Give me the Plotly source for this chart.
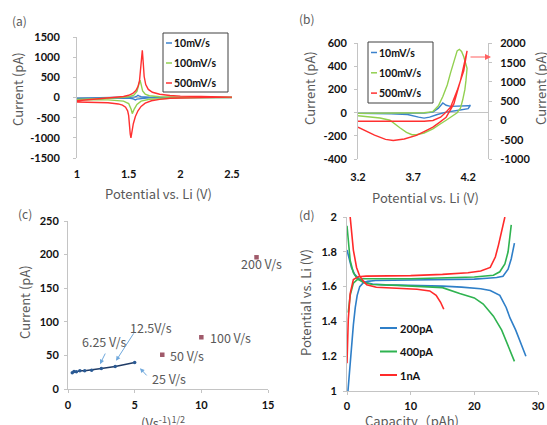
import plotly.graph_objects as go

W, H = 547, 425

# ---------------- Panel (a): CV 1.0-2.5 V ----------------
a_labels = ["10mV/s", "100mV/s", "500mV/s"]
a10_x = [1.0, 1.3, 1.5, 1.56, 1.58, 1.59, 1.6, 1.62, 1.7, 2.0, 2.5,
         2.5, 2.0, 1.7, 1.62, 1.58, 1.565, 1.555, 1.54, 1.5, 1.3, 1.0]
a10_y = [-20, -10, 0, 15, 35, 55, 40, 20, 8, 3, 2,
         0, -2, -8, -20, -40, -60, -50, -30, -15, -12, -20]
a100_x = [1.0, 1.2, 1.4, 1.5, 1.55, 1.58, 1.6, 1.61, 1.62, 1.635, 1.66, 1.7, 1.8, 2.0, 2.5,
          2.5, 2.0, 1.8, 1.7, 1.62, 1.58, 1.555, 1.54, 1.535, 1.525, 1.5, 1.45, 1.3, 1.1, 1.0]
a100_y = [-50, -30, -5, 20, 60, 150, 300, 430, 330, 160, 80, 45, 20, 10, 5,
          0, -10, -25, -45, -90, -170, -280, -380, -400, -300, -150, -90, -60, -55, -50]
a500_x = [1.0, 1.1, 1.2, 1.3, 1.4, 1.45, 1.5, 1.54, 1.57, 1.59, 1.605, 1.615, 1.625, 1.632,
          1.64, 1.65, 1.665, 1.69, 1.73, 1.8, 1.9, 2.0, 2.2, 2.5,
          2.5, 2.2, 2.0, 1.9, 1.8, 1.72, 1.66, 1.62, 1.59, 1.565, 1.545, 1.53, 1.522, 1.515,
          1.508, 1.5, 1.49, 1.47, 1.44, 1.4, 1.3, 1.2, 1.1, 1.0]
a500_y = [-80, -60, -40, -20, 5, 25, 55, 100, 170, 270, 420, 650, 1000, 1170,
          900, 520, 320, 200, 130, 80, 50, 35, 25, 20,
          10, 0, -10, -20, -45, -80, -140, -220, -330, -470, -650, -850, -1000, -900,
          -650, -450, -330, -240, -190, -160, -130, -120, -115, -110]
a_yticks = [-1500, -1000, -500, 0, 500, 1000, 1500]
a_yticklabels = ["-1500", "-1000", "-500", "0", "500", "1000", "1500"]
a_xticks = [1, 1.5, 2, 2.5]
a_xticklabels = ["1", "1.5", "2", "2.5"]

# ---------------- Panel (b): CV 3.2-4.2 V ----------------
b10_x = [3.2, 3.5, 3.8, 3.88, 3.93, 3.97, 4.0, 4.04, 4.12, 4.2, 4.22,
         4.2, 4.1, 4.0, 3.92, 3.85, 3.8, 3.75, 3.65, 3.5, 3.2]
b10_y = [-5, -5, -3, 5, 40, 85, 65, 55, 55, 60, 65,
         35, 20, 5, -15, -38, -46, -38, -15, -8, -5]
b100_x = [3.2, 3.5, 3.8, 3.88, 3.93, 3.97, 4.01, 4.04, 4.07, 4.1, 4.12, 4.14, 4.16, 4.18, 4.19,
          4.18, 4.17, 4.15, 4.13, 4.1, 4.05, 4.0, 3.95, 3.88, 3.8, 3.73, 3.69, 3.64, 3.58,
          3.49, 3.4, 3.32, 3.2]
b100_y = [-5, -3, 0, 10, 60, 140, 240, 345, 450, 535, 549, 530, 485, 430, 385,
          280, 200, 110, 40, 0, -35, -65, -95, -140, -175, -190, -190, -170, -130,
          -65, -45, -35, -26]
b500_x = [3.2, 3.5, 3.8, 3.88, 3.95, 4.0, 4.04, 4.1, 4.16, 4.19,
          4.13, 4.07, 4.0, 3.94, 3.88, 3.8, 3.73, 3.62, 3.52, 3.45, 3.35, 3.2]
b500_y = [-20, -20, -20, 0, 85, 220, 345, 775, 1290, 1808,
          1034, 430, 85, -50, -173, -290, -388, -480, -520, -490, -380, -173]
b_xticks = [3.2, 3.7, 4.2]
b_xticklabels = ["3.2", "3.7", "4.2"]
b_yticks = [-400, -200, 0, 200, 400, 600]
b_yticklabels = ["-400", "-200", "0", "200", "400", "600"]
b_y2ticks = [-1000, -500, 0, 500, 1000, 1500, 2000]
b_y2ticklabels = ["-1000", "-500", "0", "500", "1000", "1500", "2000"]

# ---------------- Panel (c): peak current vs sqrt(scan rate) ----------------
c_fit_x = [0.32, 0.45, 0.63, 0.89, 1.25, 1.77, 2.5, 3.54, 5.0]
c_fit_y = [24, 26, 25.5, 27, 27, 28, 30.5, 33.5, 39.5]
c_high_x = [7.07, 10.0, 14.14]
c_high_y = [51, 77, 196]
c_xticks = [0, 5, 10, 15]
c_yticks = [0, 50, 100, 150, 200, 250]

# ---------------- Panel (d): charge / discharge ----------------
d_labels = ["200pA", "400pA", "1nA"]
d200c_x = [0.15, 0.4, 0.7, 1.0, 1.3, 1.6, 2.0, 2.5, 3.2, 4.5, 10, 15, 20, 22, 23.5, 24.5, 25.3, 25.8, 26.1, 26.3]
d200c_y = [1.0, 1.12, 1.22, 1.38, 1.48, 1.55, 1.6, 1.62, 1.63, 1.635, 1.638, 1.64, 1.643, 1.648, 1.652, 1.66, 1.7, 1.76, 1.81, 1.85]
d200d_x = [0, 0.3, 0.7, 1.2, 2, 3, 4, 6, 10, 15, 18, 21, 22.5, 24, 25, 25.6, 26.5, 27.3, 28.1]
d200d_y = [1.81, 1.76, 1.71, 1.67, 1.64, 1.623, 1.615, 1.61, 1.608, 1.603, 1.597, 1.588, 1.578, 1.55, 1.48, 1.42, 1.35, 1.28, 1.2]
d400c_x = [0.2, 0.5, 1.0, 1.6, 2.5, 10, 20, 23, 24, 24.8, 25.3, 25.6, 25.8]
d400c_y = [1.45, 1.55, 1.62, 1.64, 1.645, 1.645, 1.655, 1.665, 1.685, 1.73, 1.8, 1.9, 1.955]
d400d_x = [0, 0.2, 0.5, 1.0, 1.6, 2.5, 4, 8, 13, 15, 17.7, 20, 21.4, 23, 24.3, 25.3, 26.3]
d400d_y = [1.95, 1.85, 1.75, 1.68, 1.645, 1.625, 1.612, 1.607, 1.6, 1.594, 1.56, 1.535, 1.5, 1.43, 1.35, 1.26, 1.17]
d1nc_x = [0, 0.2, 0.5, 1.0, 1.8, 3, 10, 15, 19, 21, 22.5, 23.3, 23.8, 24.3, 24.8]
d1nc_y = [1.16, 1.41, 1.56, 1.64, 1.657, 1.66, 1.663, 1.67, 1.68, 1.69, 1.71, 1.77, 1.84, 1.925, 2.0]
d1nd_x = [0.5, 0.74, 1.0, 1.5, 2.0, 2.6, 3.1, 4.6, 8, 11, 13, 14, 14.7, 15.2]
d1nd_y = [2.0, 1.91, 1.81, 1.71, 1.66, 1.63, 1.61, 1.596, 1.59, 1.585, 1.575, 1.55, 1.51, 1.47]
d_xticks = [0, 10, 20, 30]
d_yticks = [1, 1.2, 1.4, 1.6, 1.8, 2]
d_yticklabels = ["1", "1.2", "1.4", "1.6", "1.8", "2"]

# ---------------- styling ----------------
BLUE_A, GREEN_A, RED_A = "#3b82cc", "#92d050", "#ff3030"
BLUE_D, GREEN_D, RED_D = "#2f7fc8", "#2fb350", "#ff2a2a"
AXC = "#c4c4c4"
TITLEC = "#595959"
TICKFONT = dict(family="Lato", size=11, color="#111111", weight="bold")
TITLEFONT = dict(family="Noto Sans CJK JP", size=13, color=TITLEC)


def px(x):
    return x / W


def py(y):
    return 1 - y / H


fig = go.Figure()

for xs, ys, c in [(a10_x, a10_y, BLUE_A), (a100_x, a100_y, GREEN_A), (a500_x, a500_y, RED_A)]:
    fig.add_trace(go.Scatter(x=xs, y=ys, mode="lines", line=dict(color=c, width=1.4),
                             xaxis="x", yaxis="y", showlegend=False))
fig.add_trace(go.Scatter(x=b10_x, y=b10_y, mode="lines", line=dict(color=BLUE_A, width=1.4),
                         xaxis="x2", yaxis="y2", showlegend=False))
fig.add_trace(go.Scatter(x=b100_x, y=b100_y, mode="lines", line=dict(color=GREEN_A, width=1.4),
                         xaxis="x2", yaxis="y2", showlegend=False))
fig.add_trace(go.Scatter(x=b500_x, y=b500_y, mode="lines", line=dict(color=RED_A, width=1.4),
                         xaxis="x2", yaxis="y3", showlegend=False))
fig.add_trace(go.Scatter(x=c_fit_x, y=c_fit_y, mode="lines+markers",
                         line=dict(color="#1f3b66", width=1.5),
                         marker=dict(color="#2a5a94", size=3.5),
                         xaxis="x3", yaxis="y4", showlegend=False))
fig.add_trace(go.Scatter(x=c_high_x, y=c_high_y, mode="markers",
                         marker=dict(color="#a05a6a", size=4.5, symbol="square"),
                         xaxis="x3", yaxis="y4", showlegend=False))
for xs, ys, c in [(d200c_x, d200c_y, BLUE_D), (d200d_x, d200d_y, BLUE_D),
                  (d400c_x, d400c_y, GREEN_D), (d400d_x, d400d_y, GREEN_D),
                  (d1nc_x, d1nc_y, RED_D), (d1nd_x, d1nd_y, RED_D)]:
    fig.add_trace(go.Scatter(x=xs, y=ys, mode="lines", line=dict(color=c, width=1.6),
                             xaxis="x4", yaxis="y5", showlegend=False))


def axis(**kw):
    base = dict(showgrid=False, tickfont=TICKFONT, linecolor=AXC, tickcolor=AXC,
                ticklen=3, ticks="outside", zeroline=False, fixedrange=True,
                ticklabeloverflow="allow")
    base.update(kw)
    return base


fig.update_layout(
    width=W, height=H, margin=dict(l=0, r=0, t=0, b=0, autoexpand=False),
    paper_bgcolor="white", plot_bgcolor="white",
    xaxis=axis(domain=[px(77), px(232)], anchor="y", range=[1, 2.5],
               tickvals=a_xticks, ticktext=a_xticklabels, showline=False, ticks="",
               ticklabelstandoff=8),
    yaxis=axis(domain=[py(158), py(37)], anchor="x", range=[-1500, 1500],
               tickvals=a_yticks, ticktext=a_yticklabels, showline=True,
               zeroline=True, zerolinecolor=AXC, zerolinewidth=1, ticklabelstandoff=11),
    xaxis2=axis(domain=[px(358), px(488)], anchor="y2", range=[3.2, 4.38],
                tickvals=b_xticks, ticktext=b_xticklabels, showline=False, ticks="",
                ticklabelstandoff=10),
    yaxis2=axis(domain=[py(159), py(43.4)], anchor="x2", range=[-400, 600],
                tickvals=b_yticks, ticktext=b_yticklabels, showline=True,
                zeroline=True, zerolinecolor=AXC, zerolinewidth=1, ticklabelstandoff=5),
    yaxis3=axis(overlaying="y2", anchor="x2", side="right", range=[-1000, 2000],
                tickvals=b_y2ticks, ticktext=b_y2ticklabels, showline=True,
                ticklabelstandoff=6),
    xaxis3=axis(domain=[px(68), px(268)], anchor="y4", range=[0, 15],
                tickvals=c_xticks, showline=True, ticklabelstandoff=3),
    yaxis4=axis(domain=[py(389), py(221)], anchor="x3", range=[0, 250],
                tickvals=c_yticks, showline=True, ticklabelstandoff=3),
    xaxis4=axis(domain=[px(347), px(538)], anchor="y5", range=[0, 30],
                tickvals=d_xticks, showline=True, ticklabelstandoff=2),
    yaxis5=axis(domain=[py(391), py(217)], anchor="x4", range=[1, 2],
                tickvals=d_yticks, ticktext=d_yticklabels, showline=True,
                ticklabelstandoff=4),
)

ann = []
shapes = []


def text(xp, yp, t, font, angle=0, xanchor="center", yanchor="middle"):
    ann.append(dict(x=px(xp), y=py(yp), xref="paper", yref="paper", text=t, showarrow=False,
                    font=font, textangle=angle, xanchor=xanchor, yanchor=yanchor))


LETTERF = dict(family="Noto Sans CJK JP", size=12, color=TITLEC)
text(19, 20, "(a)", LETTERF)
text(307, 18, "(b)", LETTERF)
text(25, 213, "(c)", LETTERF)
text(307, 214, "(d)", LETTERF)

# axis titles
text(17, 89, "Current (pA)", TITLEFONT, angle=-90)
text(158, 193, "Potential vs. Li (V)", TITLEFONT)
text(310, 88, "Current (pA)", TITLEFONT, angle=-90)
text(541, 88, "Current (pA)", TITLEFONT, angle=-90)
text(425, 198, "Potential vs. Li (V)", TITLEFONT)
text(24, 302, "Current (pA)", TITLEFONT, angle=-90)
text(163, 410, "(Vs<sup>-1</sup>)<sup>1/2</sup>", TITLEFONT, yanchor="top")
text(305, 302, "Potential vs. Li (V)", TITLEFONT, angle=-90)
text(412, 409, "Capacity（pAh)", TITLEFONT, yanchor="top")

# legends (a) and (b)
LEGF = dict(family="Lato", size=10.5, color="#111111", weight="bold")
shapes.append(dict(type="rect", xref="paper", yref="paper", x0=px(163), x1=px(228),
                   y0=py(92), y1=py(33), line=dict(color="#404040", width=1), fillcolor="white",
                   layer="above"))
for i, (lab, c) in enumerate(zip(a_labels, [BLUE_A, GREEN_A, RED_A])):
    yy = 43 + 20 * i
    shapes.append(dict(type="line", xref="paper", yref="paper", x0=px(166), x1=px(172),
                       y0=py(yy), y1=py(yy), line=dict(color=c, width=1.5), layer="above"))
    text(172, yy, lab, LEGF, xanchor="left")
shapes.append(dict(type="rect", xref="paper", yref="paper", x0=px(368), x1=px(433),
                   y0=py(103), y1=py(42), line=dict(color="#404040", width=1), fillcolor="white",
                   layer="above"))
for i, (lab, c) in enumerate(zip(a_labels, [BLUE_A, GREEN_A, RED_A])):
    yy = 52.5 + 20.3 * i
    shapes.append(dict(type="line", xref="paper", yref="paper", x0=px(371), x1=px(377),
                       y0=py(yy), y1=py(yy), line=dict(color=c, width=1.5), layer="above"))
    text(377, yy, lab, LEGF, xanchor="left")

# red arrow in (b)
ann.append(dict(x=px(491), y=py(57), xref="paper", yref="paper", text="", showarrow=True,
                ax=-22, ay=0, arrowcolor="#ff6060", arrowwidth=1.2, arrowhead=2, arrowsize=1))

# legend (d)
LEGD = dict(family="Lato", size=11, color="#111111", weight="bold")
for i, (lab, c) in enumerate(zip(d_labels, [BLUE_D, GREEN_D, RED_D])):
    yy = 328 + 23.5 * i
    shapes.append(dict(type="line", xref="paper", yref="paper", x0=px(380), x1=px(397),
                       y0=py(yy), y1=py(yy), line=dict(color=c, width=2)))
    text(397.5, yy, lab, LEGD, xanchor="left")

# panel (c) labels and arrows
CF = dict(family="Noto Sans CJK JP", size=12.5, color=TITLEC)
for t, x, y in [("200 V/s", 14.5, 187), ("100 V/s", 12.2, 77), ("50 V/s", 8.9, 50.5),
                ("25 V/s", 7.6, 15), ("12.5V/s", 6.2, 91), ("6.25 V/s", 2.7, 70)]:
    ann.append(dict(x=x, y=y, xref="x3", yref="y4", text=t, showarrow=False, font=CF))
for hx, hy, tx, ty in [(2.4, 37, 2.85, 55), (3.6, 42, 5.0, 85), (5.4, 31, 6.0, 18)]:
    ann.append(dict(x=hx, y=hy, xref="x3", yref="y4", ax=tx, ay=ty, axref="x3", ayref="y4",
                    text="", showarrow=True, arrowcolor="#6fa8dc", arrowwidth=1,
                    arrowhead=2, arrowsize=0.9))

fig.update_layout(annotations=ann, shapes=shapes)
fig.write_html("out.html", config={"displayModeBar": False},
               post_script="document.body.style.margin='0';document.body.style.overflow='hidden';")
